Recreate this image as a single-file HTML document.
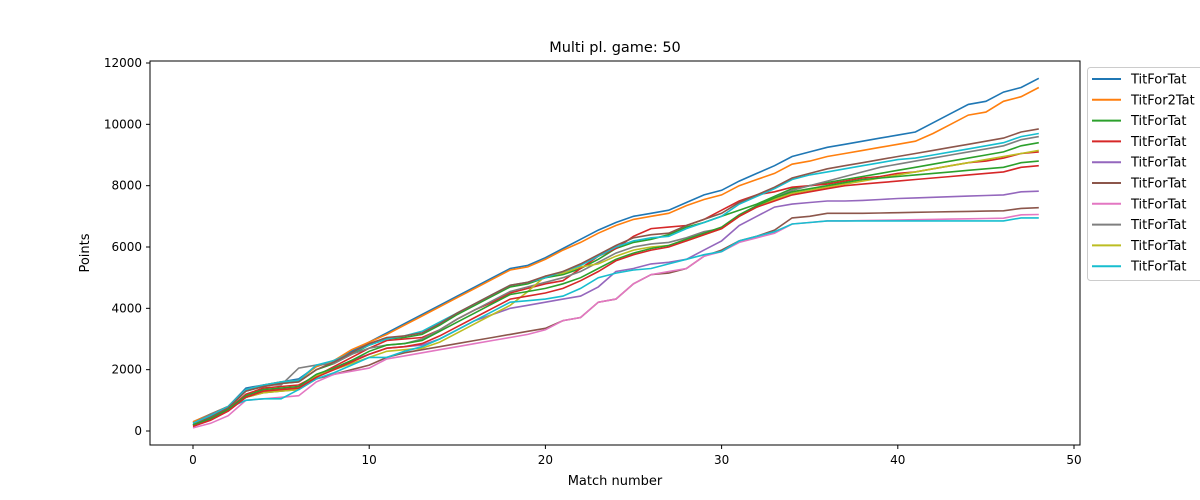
<!DOCTYPE html>
<html><head><meta charset="utf-8"><style>
body{margin:0;background:#fff;}
svg{display:block;font-family:"DejaVu Sans","Liberation Sans",sans-serif;}
</style></head><body>
<svg id="chart" width="1200" height="500" viewBox="0 0 1200 500" xmlns="http://www.w3.org/2000/svg">
<rect x="0" y="0" width="1200" height="500" fill="#fff"/>
<text x="615" y="52" font-size="14.5" text-anchor="middle">Multi pl. game: 50</text>
<g id="lines"></g>
<rect x="150" y="61" width="930" height="384" fill="none" stroke="#000" stroke-width="1"/>
<g id="ticks"></g>
<text x="615" y="485" font-size="13" text-anchor="middle">Match number</text>
<text x="89" y="253" font-size="13" text-anchor="middle" transform="rotate(-90 89 253)">Points</text>
<g id="legend">
<rect x="1087.5" y="67.5" width="130" height="213" rx="3" fill="#fff" stroke="#ccc"/>
</g>
</svg>
<script>
const legendLabels=["TitForTat","TitFor2Tat","TitForTat","TitForTat","TitForTat","TitForTat","TitForTat","TitForTat","TitForTat","TitForTat"];
const xTicks=[0,10,20,30,40,50];
const yTicks=[0,2000,4000,6000,8000,10000,12000];
const colors=["#1f77b4","#ff7f0e","#2ca02c","#d62728","#9467bd","#8c564b","#e377c2","#7f7f7f","#bcbd22","#17becf"];
const s0=[300,550,800,1400,1500,1600,1700,2100,2300,2600,2900,3200,3500,3800,4100,4400,4700,5000,5300,5400,5650,5950,6250,6550,6800,7000,7100,7200,7450,7700,7850,8150,8400,8650,8950,9100,9250,9350,9450,9550,9650,9750,10050,10350,10650,10750,11050,11200,11500];
const s1=[300,550,800,1350,1500,1600,1650,2100,2300,2650,2900,3150,3450,3750,4050,4350,4650,4950,5250,5350,5600,5900,6150,6450,6700,6900,7000,7100,7350,7550,7700,8000,8200,8400,8700,8800,8950,9050,9150,9250,9350,9450,9700,10000,10300,10400,10750,10900,11200];
const s2=[250,500,750,1300,1450,1550,1600,2000,2200,2500,2800,3000,3050,3150,3450,3800,4100,4400,4700,4800,5000,5100,5300,5600,5950,6150,6250,6400,6650,6800,7000,7200,7400,7650,7900,8000,8100,8200,8300,8400,8500,8600,8700,8800,8900,9000,9100,9300,9400];
const s3=[200,450,700,1200,1400,1450,1500,1800,2100,2400,2700,2950,3000,3050,3300,3650,3950,4200,4500,4650,4800,4900,5300,5700,5950,6350,6600,6650,6700,6900,7200,7500,7700,7800,7950,8000,8050,8150,8250,8300,8400,8450,8550,8650,8750,8800,8900,9050,9100];
const s4=[150,400,650,1100,1300,1350,1400,1800,2050,2300,2500,2700,2750,2800,3000,3300,3600,3800,4000,4100,4200,4300,4400,4700,5200,5300,5450,5500,5600,5900,6200,6700,7000,7300,7400,7450,7500,7500,7520,7550,7580,7600,7620,7640,7660,7680,7700,7800,7820];
const s5=[200,400,700,1100,1250,1300,1350,1700,1850,2000,2150,2400,2550,2650,2750,2850,2950,3050,3150,3250,3350,3600,3700,4200,4300,4800,5100,5150,5300,5700,5900,6200,6350,6550,6950,7000,7100,7100,7100,7110,7120,7130,7140,7150,7160,7170,7180,7260,7280];
const s6=[100,250,500,1000,1050,1100,1150,1600,1850,1950,2050,2350,2450,2550,2650,2750,2850,2950,3050,3150,3300,3600,3700,4200,4300,4800,5100,5200,5300,5700,5850,6150,6300,6450,6750,6800,6850,6850,6860,6870,6880,6890,6900,6910,6920,6930,6940,7050,7060];
const s7=[250,550,800,1350,1500,1500,2050,2150,2200,2500,2700,2800,2850,3000,3300,3650,3950,4250,4550,4700,4850,5000,5200,5500,5800,6000,6100,6150,6300,6500,6600,7000,7300,7600,7850,8000,8150,8300,8450,8600,8700,8800,8900,9000,9100,9200,9300,9500,9600];
const s8=[200,450,700,1100,1250,1300,1350,1800,2000,2200,2400,2600,2650,2700,2900,3200,3500,3800,4100,4550,5050,5150,5350,5450,5700,5900,6000,6050,6200,6400,6600,7000,7300,7550,7750,7850,7950,8050,8150,8250,8350,8450,8550,8650,8750,8850,8950,9050,9150];
const s9=[250,500,750,1000,1050,1050,1350,1700,1900,2150,2400,2400,2600,2750,3000,3300,3600,3900,4200,4250,4300,4400,4650,5000,5150,5250,5300,5450,5600,5750,5850,6200,6350,6500,6750,6800,6850,6850,6850,6850,6850,6850,6850,6850,6850,6850,6850,6950,6950];
const s10=[250,500,800,1350,1500,1600,1650,2150,2300,2550,2800,3000,3100,3250,3550,3850,4150,4450,4750,4850,5000,5200,5400,5700,6000,6200,6300,6350,6600,6800,7000,7400,7650,7900,8200,8350,8450,8550,8650,8750,8850,8900,9000,9100,9200,9300,9400,9600,9700];
const s11=[200,450,750,1300,1450,1550,1600,2000,2250,2550,2850,3050,3100,3200,3500,3850,4150,4450,4750,4850,5050,5200,5450,5750,6050,6300,6400,6450,6700,6900,7100,7450,7700,7950,8250,8400,8550,8650,8750,8850,8950,9050,9150,9250,9350,9450,9550,9750,9850];
const s12=[200,400,700,1150,1350,1400,1450,1850,2050,2300,2600,2800,2850,2950,3250,3550,3850,4150,4450,4550,4650,4800,5000,5300,5600,5800,5950,6050,6250,6450,6650,7050,7350,7600,7800,7900,8000,8100,8200,8250,8300,8350,8400,8450,8500,8550,8600,8750,8800];
const s13=[150,350,650,1100,1300,1350,1400,1750,2000,2250,2500,2700,2750,2850,3100,3400,3700,4000,4300,4400,4500,4650,4900,5200,5550,5750,5900,6000,6200,6400,6600,7000,7300,7500,7700,7800,7900,8000,8050,8100,8150,8200,8250,8300,8350,8400,8450,8600,8650];
const series=[s0,s1,s2,s3,s4,s5,s6,s7,s8,s9,s10,s11,s12,s13];
const seriesColor=[0,1,2,3,4,5,6,7,8,9,9,5,2,3];
const NS="http://www.w3.org/2000/svg";
const xS=v=>193+v*(1074-193)/50;
const yS=v=>431-v*(431-63)/12000;
const lg=document.getElementById('lines');
series.forEach((arr,i)=>{
  const p=document.createElementNS(NS,'polyline');
  p.setAttribute('points',arr.map((v,j)=>xS(j).toFixed(1)+','+yS(v).toFixed(1)).join(' '));
  p.setAttribute('fill','none');
  p.setAttribute('stroke',colors[seriesColor[i]]);
  p.setAttribute('stroke-width','1.6');
  
  
  lg.appendChild(p);
});
const tg=document.getElementById('ticks');
xTicks.forEach(t=>{
  const x=xS(t);
  const l=document.createElementNS(NS,'line');
  l.setAttribute('x1',x);l.setAttribute('x2',x);l.setAttribute('y1',445);l.setAttribute('y2',449);l.setAttribute('stroke','#000');
  
  
  tg.appendChild(l);
  const tx=document.createElementNS(NS,'text');
  tx.setAttribute('x',x);tx.setAttribute('y',464);tx.setAttribute('font-size','12');tx.setAttribute('text-anchor','middle');
  tx.textContent=t;
  
  
  tg.appendChild(tx);
});
yTicks.forEach(t=>{
  const y=yS(t);
  const l=document.createElementNS(NS,'line');
  l.setAttribute('x1',146);l.setAttribute('x2',150);l.setAttribute('y1',y);l.setAttribute('y2',y);l.setAttribute('stroke','#000');
  
  
  tg.appendChild(l);
  const tx=document.createElementNS(NS,'text');
  tx.setAttribute('x',142);tx.setAttribute('y',y+4);tx.setAttribute('font-size','12');tx.setAttribute('text-anchor','end');
  tx.textContent=t;
  
  
  tg.appendChild(tx);
});
const leg=document.getElementById('legend');
legendLabels.forEach((lab,i)=>{
  const y=79+i*20.8;
  const l=document.createElementNS(NS,'line');
  l.setAttribute('x1',1092);l.setAttribute('x2',1121);l.setAttribute('y1',y);l.setAttribute('y2',y);
  l.setAttribute('stroke',colors[i]);l.setAttribute('stroke-width','2');
  
  
  leg.appendChild(l);
  const tx=document.createElementNS(NS,'text');
  tx.setAttribute('x',1131);tx.setAttribute('y',y+4.5);tx.setAttribute('font-size','13');
  tx.textContent=lab;
  
  
  leg.appendChild(tx);
});
</script>
</body></html>
